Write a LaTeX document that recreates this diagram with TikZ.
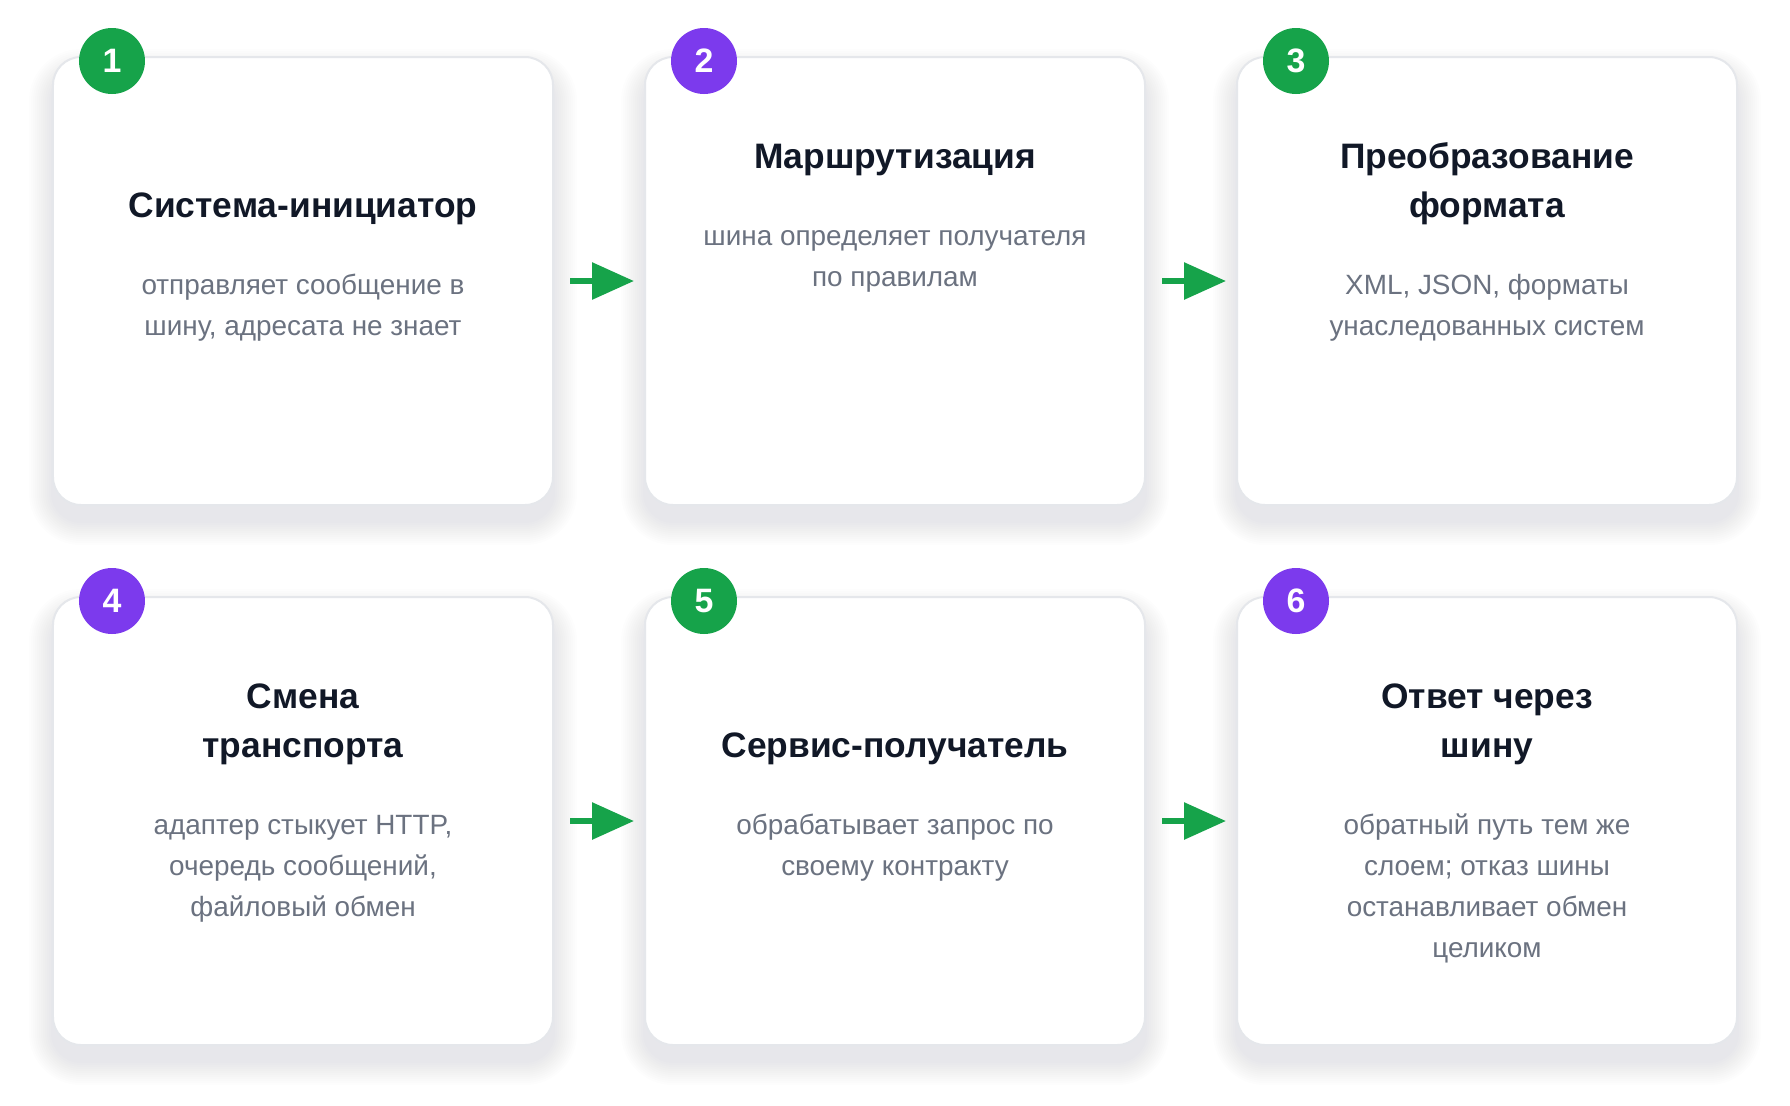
\documentclass[tikz,border=0pt]{standalone}
\usepackage{fontspec}
\setmainfont{Liberation Sans}
\usepackage{xcolor}
\usetikzlibrary{positioning}
\usetikzlibrary{arrows.meta}
\usetikzlibrary{calc}
\definecolor{stepgreen}{HTML}{16A34A}
\definecolor{steppurple}{HTML}{7C3AED}
\definecolor{cardline}{HTML}{E5E7EB}
\definecolor{titlecol}{HTML}{111827}
\definecolor{bodycol}{HTML}{6B7280}
\definecolor{shadecol}{HTML}{4B5070}
\tikzset{card/.style={rectangle,draw=cardline,line width=2bp,fill=white,rounded corners=28bp,
    minimum width=500bp,minimum height=448bp,inner sep=0pt}}
\tikzset{num/.style={circle,fill=#1,text=white,minimum size=66bp,inner sep=0pt,font=\fontsize{34}{34}\selectfont\bfseries}}
\tikzset{ttl/.style={align=center,text=titlecol,inner sep=0pt,font=\fontsize{35.5}{49}\selectfont\bfseries}}
\tikzset{txt/.style={align=center,text=bodycol,inner sep=0pt,font=\fontsize{28}{41}\selectfont}}
\tikzset{flow/.style={-{Triangle[length=42bp,width=36bp]},line width=6bp,stepgreen,shorten <=16bp,shorten >=10bp}}

\begin{document}
\begin{tikzpicture}[x=1bp,y=-1bp]

	\fill[white] (0,0) rectangle (1790,1105);
	\useasboundingbox (0,0) rectangle (1790,1105);

	% cards with a soft shadow
	\foreach \i/\cx/\cy in {1/303/281, 2/895/281, 3/1487/281, 4/303/821, 5/895/821, 6/1487/821} {
		\foreach \s in {2,4,...,24}
			\fill[shadecol,opacity=0.006,rounded corners=28+\s] (\cx-250-\s,\cy-224-\s+16) rectangle (\cx+250+\s,\cy+224+\s+16);
		\node[card] (c\i) at (\cx,\cy) {};
	}

	% numbers, titles, texts (base = last line)
	\foreach \i/\col/\ty/\by/\ttext/\btext in {
		1/stepgreen/161/279/{Система-инициатор}/{отправляет сообщение в\\шину, адресата не знает},
		2/steppurple/112/230/{Маршрутизация}/{шина определяет получателя\\по правилам},
		3/stepgreen/161/279/{Преобразование\\формата}/{XML, JSON, форматы\\унаследованных систем},
		4/steppurple/161/320/{Смена\\транспорта}/{адаптер стыкует HTTP,\\очередь сообщений,\\файловый обмен},
		5/stepgreen/161/279/{Сервис-получатель}/{обрабатывает запрос по\\своему контракту},
		6/steppurple/161/361/{Ответ через\\шину}/{обратный путь тем же\\слоем; отказ шины\\останавливает обмен\\целиком}} {
		\node[num=\col] (n\i) at ($(c\i.north west)+(60,5)$) {\i};
		\node[ttl,anchor=base] (t\i) at ($(c\i.north)+(0,\ty)$) {\ttext};
		\node[txt,anchor=base] (b\i) at ($(c\i.north)+(0,\by)$) {\btext};
	}

	\draw[flow] (c1) -- (c2);
	\draw[flow] (c2) -- (c3);
	\draw[flow] (c4) -- (c5);
	\draw[flow] (c5) -- (c6);

\end{tikzpicture}
\end{document}
